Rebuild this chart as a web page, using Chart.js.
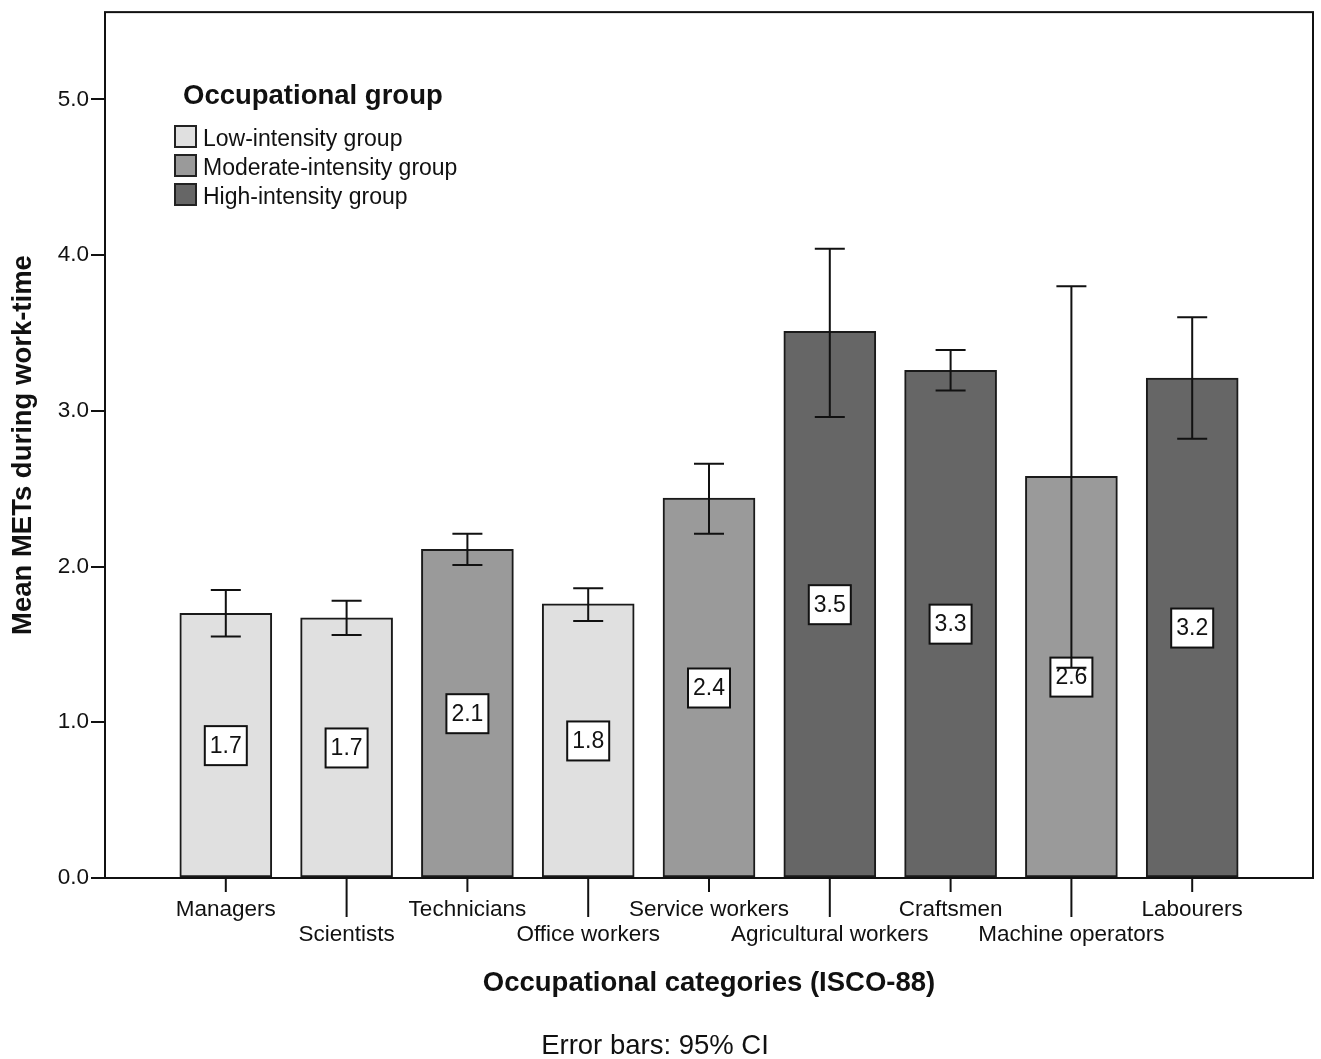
<!DOCTYPE html>
<html>
<head>
<meta charset="utf-8">
<script src="https://cdn.jsdelivr.net/npm/chart.js@4"></script>
<style>
  html, body { margin: 0; padding: 0; background: #fff; }
  #wrap { width: 1321px; height: 1059px; position: relative; }
</style>
</head>
<body>
<div id="wrap"><canvas id="chart"></canvas></div>
<script>
// data
var categories = ['Managers', 'Scientists', 'Technicians', 'Office workers', 'Service workers',
  'Agricultural workers', 'Craftsmen', 'Machine operators', 'Labourers'];
var meanMets = [1.70, 1.67, 2.11, 1.76, 2.44, 3.51, 3.26, 2.58, 3.21];
var ciLower = [1.55, 1.56, 2.01, 1.65, 2.21, 2.96, 3.13, 1.35, 2.82];
var ciUpper = [1.85, 1.78, 2.21, 1.86, 2.66, 4.04, 3.39, 3.80, 3.60];
var groupOf = [0, 0, 1, 0, 1, 2, 2, 1, 2];
var groupNames = ['Low-intensity group', 'Moderate-intensity group', 'High-intensity group'];
var groupColors = ['#e0e0e0', '#9a9a9a', '#666666'];
var yTicks = [0, 1, 2, 3, 4, 5];

var FONT = "'Liberation Sans', Arial, sans-serif";

var points = categories.map(function (c, i) { return { x: i + 1, y: meanMets[i] }; });

// frame, tick marks, value boxes, error bars, legend, footnote
var extras = {
  id: 'extras',
  afterDatasetsDraw: function (chart) {
    var ctx = chart.ctx;
    var xs = chart.scales.x, ys = chart.scales.y;
    var a = chart.chartArea;
    ctx.save();

    // value boxes in the middle of each bar
    ctx.font = '23px ' + FONT;
    ctx.textAlign = 'center';
    ctx.textBaseline = 'middle';
    meanMets.forEach(function (v, i) {
      var cx = xs.getPixelForValue(i + 1);
      var cy = (ys.getPixelForValue(v) + ys.getPixelForValue(0)) / 2;
      ctx.fillStyle = '#fff';
      ctx.fillRect(cx - 21, cy - 19.5, 42, 39);
      ctx.lineWidth = 2;
      ctx.strokeStyle = '#111';
      ctx.strokeRect(cx - 21, cy - 19.5, 42, 39);
      ctx.fillStyle = '#111';
      ctx.fillText(v.toFixed(1), cx, cy + 1);
    });

    // error bars
    ctx.strokeStyle = '#111';
    ctx.lineWidth = 2;
    categories.forEach(function (c, i) {
      var cx = xs.getPixelForValue(i + 1);
      var yl = ys.getPixelForValue(ciLower[i]);
      var yu = ys.getPixelForValue(ciUpper[i]);
      ctx.beginPath();
      ctx.moveTo(cx, yl); ctx.lineTo(cx, yu);
      ctx.moveTo(cx - 15, yl); ctx.lineTo(cx + 15, yl);
      ctx.moveTo(cx - 15, yu); ctx.lineTo(cx + 15, yu);
      ctx.stroke();
    });

    // frame
    ctx.strokeStyle = '#111';
    ctx.lineWidth = 2;
    ctx.strokeRect(a.left, a.top, a.right - a.left, a.bottom - a.top);

    // x tick marks, alternating lengths
    categories.forEach(function (c, i) {
      var cx = xs.getPixelForValue(i + 1);
      ctx.beginPath();
      ctx.moveTo(cx, a.bottom);
      ctx.lineTo(cx, a.bottom + (i % 2 ? 39 : 14));
      ctx.stroke();
    });

    // legend
    ctx.textAlign = 'left';
    ctx.textBaseline = 'middle';
    ctx.fillStyle = '#111';
    ctx.font = 'bold 27.5px ' + FONT;
    ctx.fillText('Occupational group', 183, 96);
    ctx.font = '23px ' + FONT;
    groupNames.forEach(function (g, k) {
      var top = 126 + k * 29;
      ctx.fillStyle = groupColors[k];
      ctx.fillRect(175, top, 21, 21);
      ctx.strokeStyle = '#222';
      ctx.lineWidth = 2;
      ctx.strokeRect(175, top, 21, 21);
      ctx.fillStyle = '#111';
      ctx.fillText(g, 203, top + 14);
    });

    // footnote
    ctx.textAlign = 'center';
    ctx.font = '27.5px ' + FONT;
    ctx.fillText('Error bars: 95% CI', 655, 1046);
    ctx.restore();
  }
};

var chart = new Chart(document.getElementById('chart'), {
  type: 'bar',
  data: {
    datasets: [{
      data: points,
      backgroundColor: groupOf.map(function (g) { return groupColors[g]; }),
      borderColor: '#1a1a1a',
      borderWidth: 2,
      borderSkipped: false,
      barThickness: 92
    }]
  },
  options: {
    responsive: true,
    maintainAspectRatio: false,
    animation: false,
    devicePixelRatio: 1,
    layout: { padding: { top: 11, right: 8, left: 0, bottom: 0 } },
    plugins: { legend: { display: false }, tooltip: { enabled: false } },
    scales: {
      x: {
        type: 'linear',
        offset: false,
        min: 0,
        max: 10,
        afterBuildTicks: function (s) { s.ticks = categories.map(function (c, i) { return { value: i + 1 }; }); },
        afterFit: function (s) { s.height = 181; },
        grid: { display: false },
        border: { display: false },
        ticks: {
          autoSkip: false,
          maxRotation: 0,
          padding: 11.5,
          color: '#111',
          font: { family: FONT, size: 22.5, lineHeight: '25px' },
          callback: function (v) {
            var i = Math.round(v) - 1;
            return i % 2 ? ['', categories[i]] : [categories[i]];
          }
        },
        title: {
          display: true,
          text: 'Occupational categories (ISCO-88)',
          color: '#111',
          font: { family: FONT, size: 27.5, weight: 'bold', lineHeight: 1 },
          padding: { top: 0, bottom: 62 }
        }
      },
      y: {
        min: 0,
        max: 5.56,
        afterBuildTicks: function (s) { s.ticks = yTicks.map(function (v) { return { value: v }; }); },
        afterFit: function (s) { s.width = 105; },
        grid: { drawOnChartArea: false, drawTicks: true, tickLength: 14, tickColor: '#111', lineWidth: 2 },
        border: { display: false },
        ticks: {
          padding: 2,
          color: '#111',
          font: { family: FONT, size: 22.5, lineHeight: 0.9 },
          callback: function (v) { return Number(v).toFixed(1); }
        },
        title: {
          display: true,
          text: 'Mean METs during work-time',
          color: '#111',
          font: { family: FONT, size: 27.5, weight: 'bold', lineHeight: 1 },
          padding: { top: 10, bottom: 0 }
        }
      }
    }
  },
  plugins: [extras]
});
</script>
</body>
</html>
